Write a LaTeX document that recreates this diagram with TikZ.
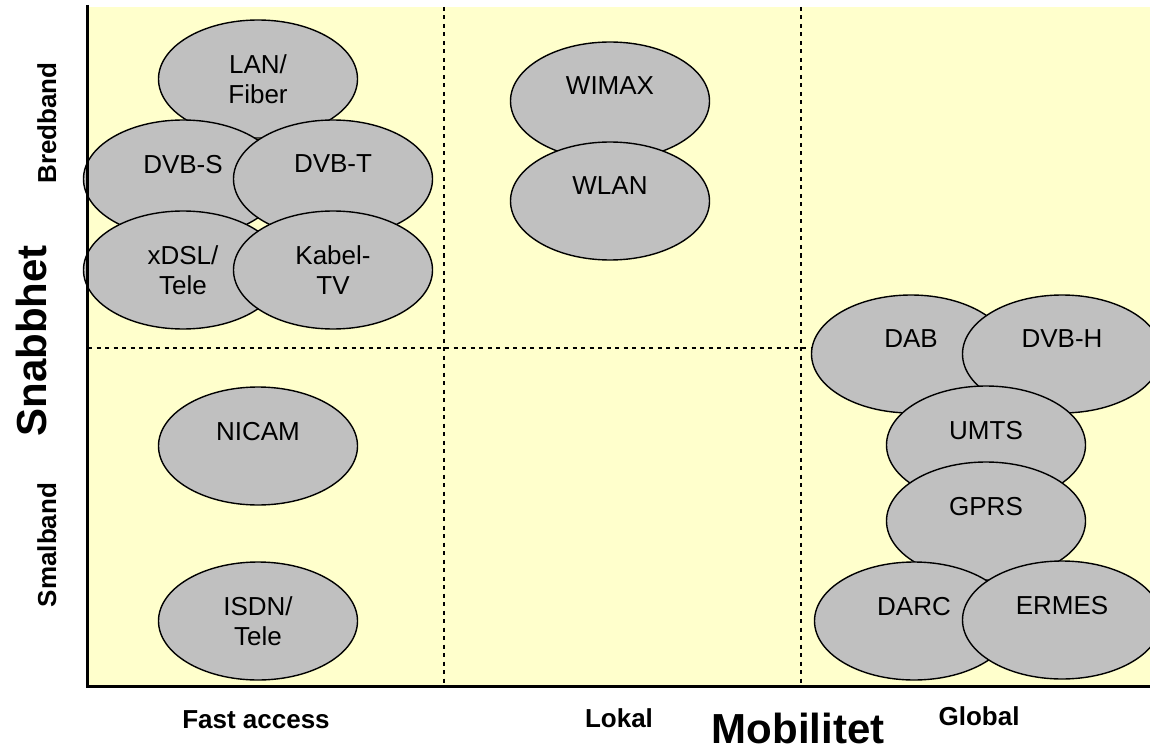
\documentclass[tikz,border=0pt]{standalone}
\usepackage{fontspec}
\setmainfont{Liberation Sans}
\usetikzlibrary{shapes.geometric}
\definecolor{bgyellow}{HTML}{FFFFCC}
\definecolor{ellgray}{HTML}{C0C0C0}
\tikzset{
  tech/.style={ellipse, draw=black, line width=1.4pt, fill=ellgray,
    minimum width=199pt, minimum height=118pt, inner sep=0pt, align=center,
    font=\fontsize{26}{30}\selectfont},
  grid/.style={line width=1.5pt, dash pattern=on 4pt off 4.5pt},
  axis/.style={line width=3pt, black},
  small/.style={font=\fontsize{26}{30}\selectfont\bfseries, anchor=base},
  big/.style={font=\fontsize{42}{50}\selectfont\bfseries, anchor=base}
}
\newcommand{\oneline}[1]{#1\\\mbox{}}
\begin{document}
\begin{tikzpicture}[x=1pt,y=-1pt]
\clip (0,0) rectangle (1150,751);
\fill[white] (0,0) rectangle (1150,751);
\fill[bgyellow] (88,7) rectangle (1150,686);
% dashed grid
\coordinate (v1t) at (444,7); \coordinate (v1b) at (444,686);
\coordinate (v2t) at (801,7); \coordinate (v2b) at (801,686);
\coordinate (hl) at (88,348); \coordinate (hr) at (1150,348);
\draw[grid] (v1t) -- (v1b);
\draw[grid] (v2t) -- (v2b);
\draw[grid] (hl) -- (hr);
% top-left cluster
\node[tech] (lan) at (258,79) {LAN/\\Fiber};
\node[tech] (dvbs) at (183,179) {\oneline{DVB-S}};
\node[tech] (dvbt) at (333,179) {\oneline{DVB-T}};
\node[tech] (xdsl) at (183,270) {xDSL/\\Tele};
\node[tech] (kabel) at (333,270) {Kabel-\\TV};
% lower-left
\node[tech] (nicam) at (258,446) {\oneline{NICAM}};
\node[tech] (isdn) at (258,621) {ISDN/\\Tele};
% middle
\node[tech] (wimax) at (610,101) {\oneline{WIMAX}};
\node[tech] (wlan) at (610,201) {\oneline{WLAN}};
% right cluster
\node[tech] (dab) at (911,354) {\oneline{DAB}};
\node[tech] (dvbh) at (1062,354) {\oneline{DVB-H}};
\node[tech] (umts) at (986,445) {\oneline{UMTS}};
\node[tech] (gprs) at (986,521) {\oneline{GPRS}};
\node[tech] (darc) at (914,621) {\oneline{DARC}};
\node[tech] (ermes) at (1062,620) {\oneline{ERMES}};
% axes
\coordinate (o) at (87,686);
\coordinate (yt) at (87,5);
\coordinate (xr) at (1150,686);
\draw[axis] (yt) -- (o) -- (xr);
% axis labels
\node[small] (fa) at (256,728) {Fast access};
\node[small] (lok) at (619,727) {Lokal};
\node[small] (glob) at (979,725) {Global};
\node[big] (mob) at (798,743) {Mobilitet};
\node[big, rotate=90] (snab) at (46,341) {Snabbhet};
\node[small, rotate=90] (bred) at (56,123) {Bredband};
\node[small, rotate=90] (smal) at (56,545) {Smalband};
\end{tikzpicture}
\end{document}
